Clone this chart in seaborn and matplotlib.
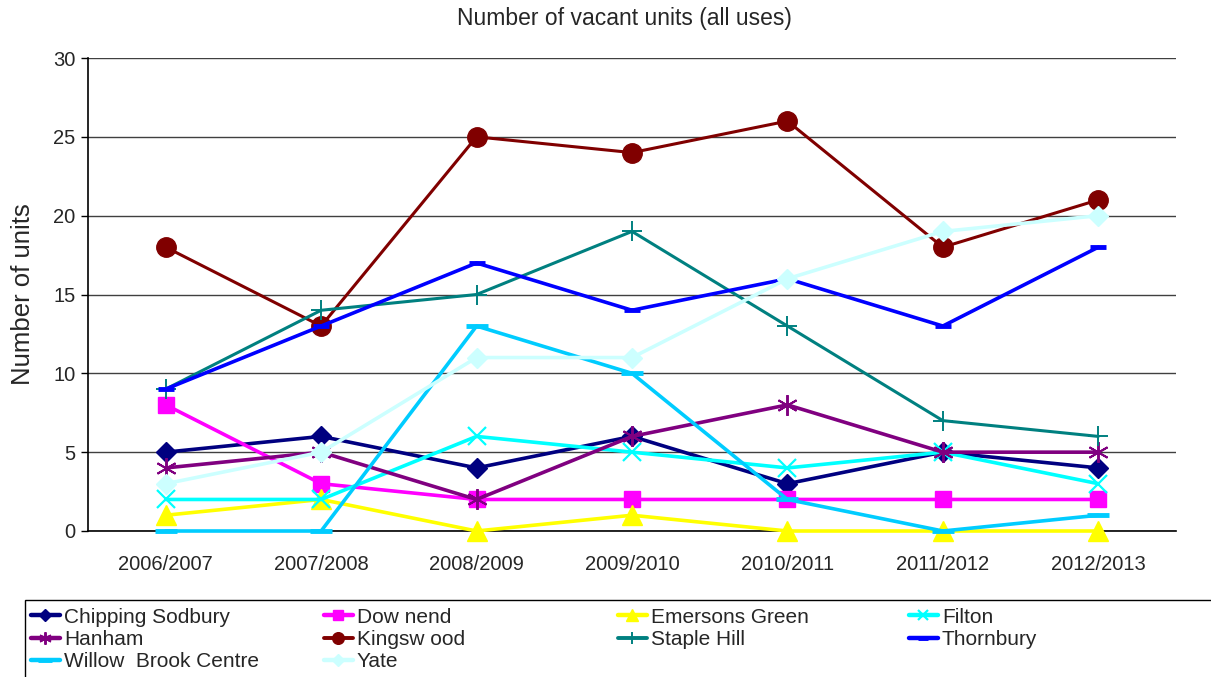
import numpy as np
import pandas as pd
import seaborn as sns
import matplotlib
matplotlib.use("Agg")
import matplotlib.pyplot as plt
from matplotlib.patches import Rectangle
from matplotlib.lines import Line2D

years = ["2006/2007", "2007/2008", "2008/2009", "2009/2010",
         "2010/2011", "2011/2012", "2012/2013"]

chipping_sodbury = [5, 6, 4, 6, 3, 5, 4]
downend = [8, 3, 2, 2, 2, 2, 2]
emersons_green = [1, 2, 0, 1, 0, 0, 0]
filton = [2, 2, 6, 5, 4, 5, 3]
hanham = [4, 5, 2, 6, 8, 5, 5]
kingswood = [18, 13, 25, 24, 26, 18, 21]
staple_hill = [9, 14, 15, 19, 13, 7, 6]
thornbury = [9, 13, 17, 14, 16, 13, 18]
willow_brook = [0, 0, 13, 10, 2, 0, 1]
yate = [3, 5, 11, 11, 16, 19, 20]

series_names = ["Chipping Sodbury", "Dow nend", "Emersons Green", "Filton",
                "Hanham", "Kingsw ood", "Staple Hill", "Thornbury",
                "Willow  Brook Centre", "Yate"]
series_values = [chipping_sodbury, downend, emersons_green, filton, hanham,
                 kingswood, staple_hill, thornbury, willow_brook, yate]

# per-series styling: colour, marker, marker size, line width, marker edge width
styles = {
    "Chipping Sodbury": dict(color="#000080", marker="D", ms=10, lw=2.6, mew=1),
    "Dow nend": dict(color="#FF00FF", marker="s", ms=12, lw=2.6, mew=1),
    "Emersons Green": dict(color="#FFFF00", marker="^", ms=14, lw=2.6, mew=1),
    "Filton": dict(color="#00FFFF", marker="x", ms=13, lw=2.6, mew=1.6),
    "Hanham": dict(color="#800080", marker=(6, 2, 0), ms=15, lw=2.6, mew=1.4),
    "Kingsw ood": dict(color="#800000", marker="o", ms=14, lw=2.2, mew=1),
    "Staple Hill": dict(color="#008080", marker="+", ms=15, lw=2.2, mew=1.4),
    "Thornbury": dict(color="#0000FF", marker="_", ms=12, lw=2.6, mew=3.5),
    "Willow  Brook Centre": dict(color="#00CCFF", marker="_", ms=16, lw=2.6, mew=3.5),
    "Yate": dict(color="#CCFFFF", marker="D", ms=10, lw=2.6, mew=1),
}

rows = []
for name, vals in zip(series_names, series_values):
    for i, v in enumerate(vals):
        rows.append({"series": name, "pos": i, "year": years[i], "units": v})
df = pd.DataFrame(rows)

sns.set_theme(style="white")
plt.rcParams["font.family"] = ["Liberation Sans", "DejaVu Sans"]

fig = plt.figure(figsize=(12.11, 6.77), dpi=100)
ax = fig.add_axes([88 / 1211, 1 - 531 / 677, (1176 - 88) / 1211, (531 - 58) / 677])

for name in series_names:
    st = styles[name]
    sub = df[df["series"] == name]
    sns.lineplot(data=sub, x="pos", y="units", ax=ax, color=st["color"],
                 linewidth=st["lw"], marker=st["marker"], markersize=st["ms"],
                 markeredgewidth=st["mew"], markeredgecolor=st["color"],
                 markerfacecolor=st["color"], clip_on=False, zorder=3)

ax.set_xlim(-0.5, len(years) - 0.5)
ax.set_ylim(0, 30)
ax.set_yticks(np.arange(0, 31, 5))
ax.set_xticks(np.arange(len(years)))
ax.set_xticklabels(years)
ax.set_xticks(np.arange(-0.5, len(years)), minor=True)
ax.tick_params(axis="x", which="major", length=0, pad=17, labelsize=14.5)
ax.tick_params(axis="x", which="minor", length=6, width=1, color="black", direction="out")
ax.tick_params(axis="y", which="major", length=5, width=1, color="black",
               direction="out", labelsize=14.5, pad=4, left=True)
ax.grid(axis="y", color="#404040", linewidth=1)
ax.set_axisbelow(True)
for s in ["top", "right"]:
    ax.spines[s].set_visible(False)
for s in ["left", "bottom"]:
    ax.spines[s].set_color("black")
    ax.spines[s].set_linewidth(1.2)
ax.set_xlabel("")
ax.set_ylabel("Number of units", fontsize=18.5)
ax.yaxis.set_label_coords(-53 / 1088, 0.5)

fig.text(624 / 1211, 1 - 18 / 677, "Number of vacant units (all uses)",
         ha="center", va="center", fontsize=16.5)

# legend frame running off the bottom-right of the figure
fig.patches.append(Rectangle((25 / 1211, -0.05), 1.1, (1 - 600 / 677) + 0.05,
                             transform=fig.transFigure, fill=False,
                             edgecolor="black", linewidth=1))

def legend_handle(name):
    st = styles[name]
    return Line2D([], [], color=st["color"], linewidth=st["lw"] + 0.6,
                  marker=st["marker"], markersize=st["ms"] * 0.6,
                  markeredgewidth=st["mew"], markerfacecolor=st["color"],
                  markeredgecolor=st["color"])

col_x = [30, 323, 617, 908]
for c in range(4):
    names = series_names[c::4]
    fig.legend([legend_handle(n) for n in names], names,
               loc="upper left",
               bbox_to_anchor=((col_x[c] - 16) / 1211, 1 - 591 / 677),
               frameon=False, fontsize=15, handlelength=1.4,
               handletextpad=0.2, labelspacing=0.15, borderpad=0.3)

fig.savefig("out.png", dpi=100)
